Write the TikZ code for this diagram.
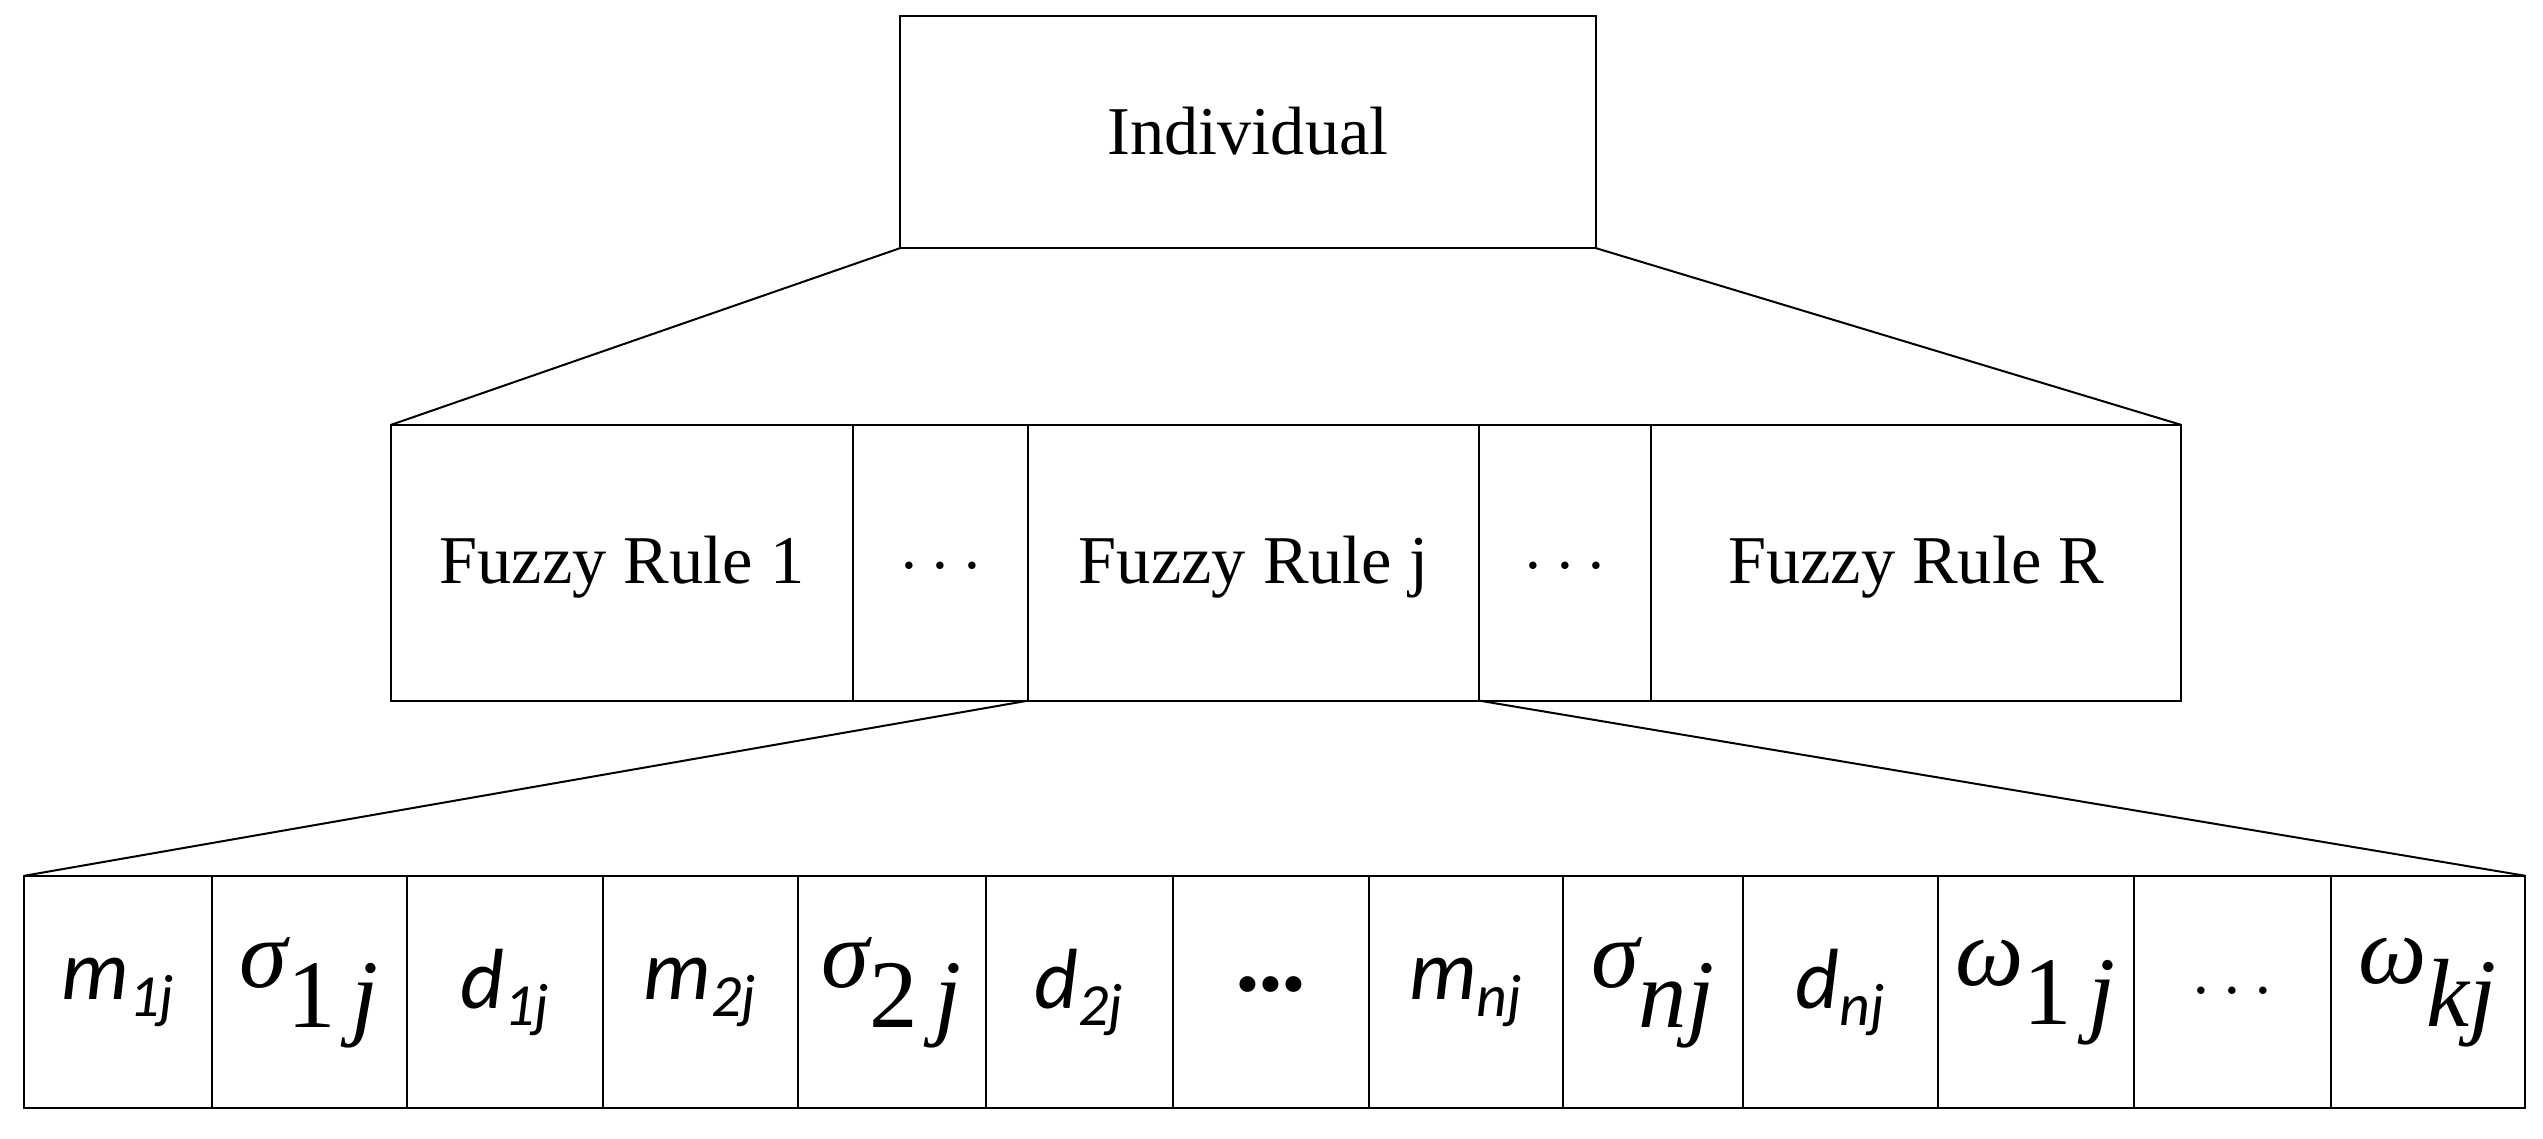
\documentclass[tikz,border=0pt]{standalone}
\usepackage{fontspec}
\setmainfont{Liberation Serif}
\newfontfamily\carlitofnt{Carlito}
\newcommand{\grk}[2]{{\normalfont\itshape\fontsize{34}{38}\selectfont #1}\textsubscript{\normalfont\fontsize{34}{38}\selectfont #2}}
\begin{document}
\begin{tikzpicture}[x=0.02cm,y=-0.02cm,
 bx/.style={draw,line width=0.7pt},
 mt/.style={font=\fontsize{24}{28}\selectfont},
 bt/.style={font=\carlitofnt\itshape\fontsize{30}{34}\selectfont}]
\useasboundingbox (0,0) rectangle (1568,702);
\draw[bx] (555,10) rectangle (984,153);
\node[mt] (ind) at (769.5,81) {Individual};
\coordinate (tl) at (555,153); \coordinate (tr) at (984,153);
\foreach \a/\b/\t [count=\i] in {241/526/Fuzzy Rule 1,526/634/$\cdots$,634/912/Fuzzy Rule j,912/1018/$\cdots$,1018/1345/Fuzzy Rule R}{
 \draw[bx] (\a,262) rectangle (\b,432);
 \node[mt] (r\i) at ({(\a+\b)/2},350) {\t};
}
\coordinate (ml) at (241,262); \coordinate (mr) at (1345,262);
\coordinate (jl) at (634,432); \coordinate (jr) at (912,432);
\draw[line width=0.7pt] (tl) -- (ml) (tr) -- (mr);
\foreach \a/\b/\t [count=\i] in {
 15/131/{m\textsubscript{1j}},
 131/251/{\grk{σ}{1\,\itshape j}},
 251/372/{d\textsubscript{1j}},
 372/492/{m\textsubscript{2j}},
 492/608/{\grk{σ}{2\,\itshape j}},
 608/723/{\textbf{\upshape ···}},
 723/844/{\textbf{\upshape ···}},
 844/964/{m\textsubscript{nj}},
 964/1075/{\grk{σ}{\itshape nj}},
 1075/1195/{d\textsubscript{nj}},
 1195/1316/{\grk{ω}{1\,\itshape j}},
 1316/1437/{\normalfont\fontsize{24}{26}\selectfont$\cdots$},
 1437/1557/{\grk{ω}{\itshape kj}}}{
 \draw[bx] (\a,540) rectangle (\b,683);
 \node[bt] (b\i) at ({(\a+\b)/2},612) {\t};
}
\node[bt,fill=white,inner sep=1pt] (b6x) at (665.5,612) {d\textsubscript{2j}};
\coordinate (bl) at (15,540); \coordinate (br) at (1557,540);
\draw[line width=0.7pt] (jl) -- (bl) (jr) -- (br);
\end{tikzpicture}
\end{document}
